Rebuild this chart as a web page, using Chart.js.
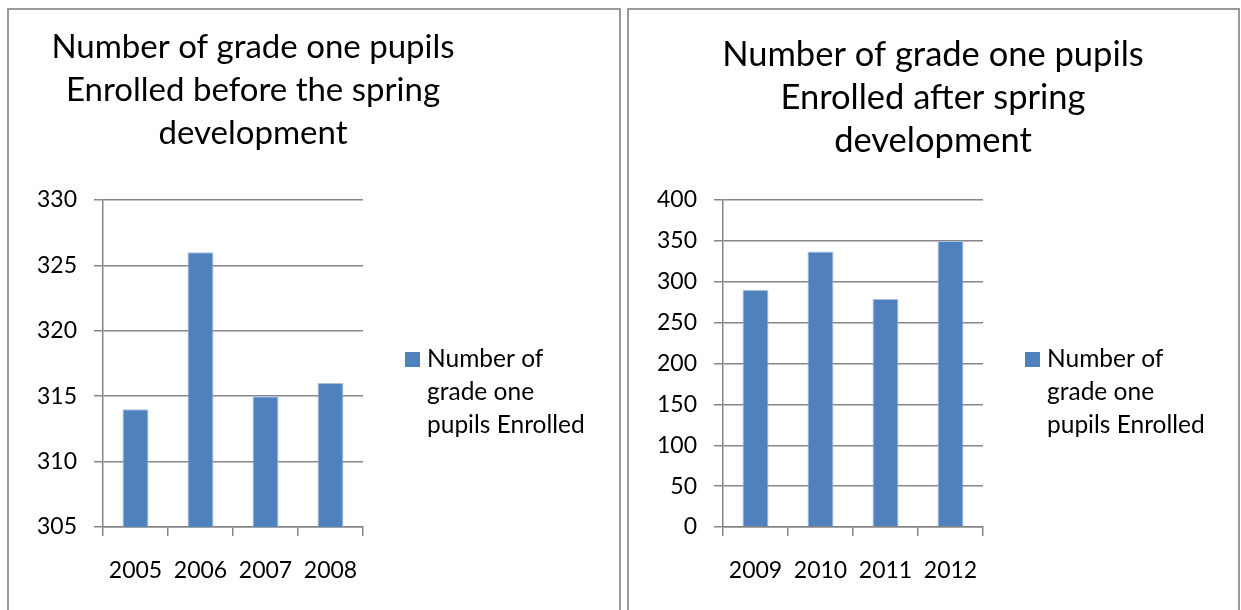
<!DOCTYPE html>
<html><head><meta charset="utf-8">
<script src="https://cdn.jsdelivr.net/npm/chart.js@4"></script>
<style>
html,body{margin:0;padding:0;background:#fff;width:1241px;height:610px;overflow:hidden;}
.panel{position:absolute;top:8px;height:700px;border:2px solid #9a9a9a;box-sizing:border-box;}
canvas{position:absolute;top:0;}
</style></head>
<body>
<div class="panel" style="left:7px;width:614px;"></div>
<div class="panel" style="left:627px;width:613px;"></div>
<canvas id="c1" width="620" height="610" style="left:0px;width:620px;height:610px"></canvas>
<canvas id="c2" width="621" height="610" style="left:620px;width:621px;height:610px"></canvas>
<script>
const seriesLabel = "Number of grade one pupils Enrolled";
const legendLines = ["Number of", "grade one", "pupils Enrolled"];

const yearsBefore = ["2005", "2006", "2007", "2008"];
const valuesBefore = [314, 326, 315, 316];
const titleBefore = ["Number of grade one pupils", "Enrolled before the spring", "development"];
const yMinBefore = 305, yMaxBefore = 330, yStepBefore = 5;

const yearsAfter = ["2009", "2010", "2011", "2012"];
const valuesAfter = [290, 337, 279, 350];
const titleAfter = ["Number of grade one pupils", "Enrolled after spring", "development"];
const yMinAfter = 0, yMaxAfter = 400, yStepAfter = 50;

const FONT = "Lato, 'Open Sans', sans-serif";
const GRID = "#868686";
const BAR = "#4F81BD";

function makeChart(id, labels, values, title, ymin, ymax, ystep, titleX, titleBase, titleSize, rightPad) {
  const decor = {
    id: 'decor',
    afterDraw(chart) {
      const ctx = chart.ctx;
      ctx.save();
      ctx.fillStyle = '#000';
      ctx.textAlign = 'center';
      ctx.textBaseline = 'alphabetic';
      ctx.font = titleSize + 'px ' + FONT;
      title.forEach((t, i) => ctx.fillText(t, titleX, titleBase + i * 43));
      // legend
      ctx.fillStyle = BAR;
      ctx.fillRect(405, 352, 15, 15);
      ctx.fillStyle = '#000';
      ctx.textAlign = 'left';
      ctx.font = '24.5px ' + FONT;
      legendLines.forEach((t, i) => ctx.fillText(t, 427, 367 + i * 33));
      ctx.restore();
    }
  };
  return new Chart(document.getElementById(id), {
    type: 'bar',
    data: {
      labels: labels,
      datasets: [{
        label: seriesLabel,
        data: values,
        backgroundColor: BAR,
        borderColor: '#a9c0df',
        borderWidth: 1,
        categoryPercentage: 1.0,
        barPercentage: 0.4
      }]
    },
    options: {
      responsive: false,
      animation: false,
      devicePixelRatio: 1,
      layout: { padding: { top: 200, left: 0, right: rightPad, bottom: 0 } },
      plugins: { legend: { display: false }, title: { display: false }, tooltip: { enabled: false } },
      scales: {
        x: {
          offset: true,
          grid: { offset: true, drawOnChartArea: false, color: GRID, lineWidth: 1.5, tickLength: 9 },
          border: { color: GRID, width: 1.5 },
          ticks: { color: '#000', font: { family: FONT, size: 23 }, padding: 21, maxRotation: 0 },
          afterFit(s) { s.height = 83; }
        },
        y: {
          min: ymin, max: ymax,
          grid: { color: GRID, lineWidth: 1.5, tickLength: 9 },
          border: { color: GRID, width: 1.5 },
          ticks: { stepSize: ystep, color: '#000', font: { family: FONT, size: 23 }, padding: 17 },
          afterFit(s) { s.width = 103; }
        }
      }
    },
    plugins: [decor]
  });
}

makeChart('c1', yearsBefore, valuesBefore, titleBefore, yMinBefore, yMaxBefore, yStepBefore, 253, 58, 33, 257);
makeChart('c2', yearsAfter, valuesAfter, titleAfter, yMinAfter, yMaxAfter, yStepAfter, 313, 66, 34.5, 258);
</script>
</body></html>
